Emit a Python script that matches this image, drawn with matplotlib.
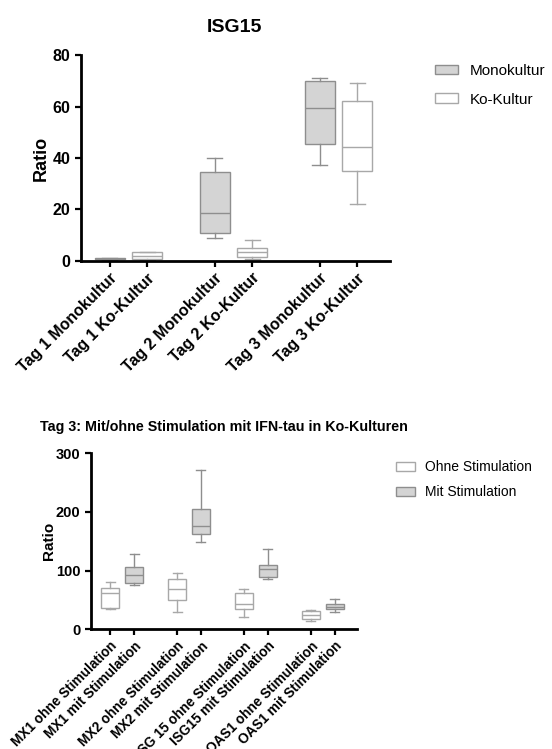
import matplotlib
matplotlib.use("Agg")
import matplotlib.pyplot as plt
from matplotlib.patches import Patch

plt.rcParams["font.family"] = ["Liberation Sans", "DejaVu Sans"]

# top chart: ISG15, box stats (whisker low, q1, median, q3, whisker high)
top_labels = ["Tag 1 Monokultur", "Tag 1 Ko-Kultur", "Tag 2 Monokultur",
              "Tag 2 Ko-Kultur", "Tag 3 Monokultur", "Tag 3 Ko-Kultur"]
top_whislo = [0.3, 0.1, 8.7, 0.7, 37.2, 22.0]
top_q1 = [0.5, 0.6, 10.9, 1.3, 45.6, 34.8]
top_med = [0.7, 2.0, 18.7, 3.4, 59.4, 44.2]
top_q3 = [0.9, 3.3, 34.7, 5.1, 70.0, 62.3]
top_whishi = [1.1, 3.5, 40.1, 8.1, 71.1, 69.1]
top_filled = [True, False, True, False, True, False]
top_legend = ["Monokultur", "Ko-Kultur"]

# bottom chart: day 3 with/without stimulation
bot_labels = ["MX1 ohne Stimulation", "MX1 mit Stimulation",
              "MX2 ohne Stimulation", "MX2 mit Stimulation",
              "ISG 15 ohne Stimulation", "ISG15 mit Stimulation",
              "OAS1 ohne Stimulation", "OAS1 mit Stimulation"]
bot_whislo = [34.1, 75.5, 30.0, 148.8, 21.5, 85.2, 14.1, 30.0]
bot_q1 = [35.8, 78.9, 49.9, 161.9, 34.6, 89.7, 18.1, 34.1]
bot_med = [61.9, 93.1, 69.2, 176.1, 43.7, 102.8, 24.9, 38.5]
bot_q3 = [69.9, 105.7, 85.7, 204.5, 62.4, 110.1, 31.2, 43.1]
bot_whishi = [81.1, 127.8, 95.4, 271.5, 69.2, 137.4, 32.4, 51.6]
bot_filled = [False, True, False, True, False, True, False, True]
bot_legend = ["Ohne Stimulation", "Mit Stimulation"]

GRAY_FILL = "#d4d4d4"
GRAY_EDGE = "#8e8e8e"
LIGHT_EDGE = "#a8a8a8"
GROUP_STEP = 2.8


def positions(n):
    return [(i // 2) * GROUP_STEP + (i % 2) for i in range(n)]


def draw_boxes(ax, lo, q1, med, q3, hi, filled, width):
    pos = positions(len(med))
    for i, p in enumerate(pos):
        edge = GRAY_EDGE if filled[i] else LIGHT_EDGE
        stats = [{"whislo": lo[i], "q1": q1[i], "med": med[i],
                  "q3": q3[i], "whishi": hi[i], "fliers": []}]
        ax.bxp(stats, positions=[p], widths=width, patch_artist=True,
               showfliers=False, manage_ticks=False,
               boxprops=dict(facecolor=GRAY_FILL if filled[i] else "white",
                             edgecolor=edge, linewidth=1.0),
               medianprops=dict(color=edge, linewidth=1.0),
               whiskerprops=dict(color=edge, linewidth=1.0),
               capprops=dict(color=edge, linewidth=1.0),
               capwidths=width * 0.5)
    return pos


def style_axis(ax, pos, labels, ymax, yticks, tick_fs, xtick_fs, ylabel_fs):
    for side in ("top", "right"):
        ax.spines[side].set_visible(False)
    for side in ("left", "bottom"):
        ax.spines[side].set_linewidth(2.0)
    ax.set_ylim(0, ymax)
    ax.set_yticks(yticks)
    ax.set_xticks(pos)
    ax.set_xticklabels(labels, rotation=45, ha="right", rotation_mode="anchor",
                       fontweight="bold", fontsize=xtick_fs)
    ax.tick_params(axis="both", direction="out", length=4, width=1.6,
                   labelsize=tick_fs)
    ax.tick_params(axis="x", pad=3, labelsize=xtick_fs)
    for lab in ax.get_yticklabels():
        lab.set_fontweight("bold")
    ax.set_ylabel("Ratio", fontweight="bold", fontsize=ylabel_fs)


fig = plt.figure(figsize=(5.52, 7.49), dpi=100)

# top panel
ax1 = fig.add_axes([0.1462, 0.6519, 0.5603, 0.2742])
pos1 = draw_boxes(ax1, top_whislo, top_q1, top_med, top_q3, top_whishi,
                  top_filled, 0.8)
ax1.set_xlim(pos1[0] - 0.77, pos1[-1] + 0.87)
style_axis(ax1, pos1, top_labels, 80, [0, 20, 40, 60, 80], 11.5, 11.5, 13)
ax1.yaxis.labelpad = 2
fig.text(0.425, 0.963, "ISG15", ha="center", va="center",
         fontsize=14, fontweight="bold")
handles1 = [Patch(facecolor=GRAY_FILL, edgecolor=GRAY_EDGE, linewidth=1.0),
            Patch(facecolor="white", edgecolor=LIGHT_EDGE, linewidth=1.0)]
fig.legend(handles1, top_legend, loc="upper left",
           bbox_to_anchor=(435 / 552, 1 - 64 / 749), frameon=False,
           fontsize=11, handlelength=1.5, handleheight=0.6,
           handletextpad=0.8, labelspacing=0.95, borderpad=0,
           borderaxespad=0)

# bottom panel
ax2 = fig.add_axes([0.1649, 0.1598, 0.4813, 0.235])
pos2 = draw_boxes(ax2, bot_whislo, bot_q1, bot_med, bot_q3, bot_whishi,
                  bot_filled, 0.75)
ax2.set_xlim(pos2[0] - 0.8, pos2[-1] + 0.92)
style_axis(ax2, pos2, bot_labels, 300, [0, 100, 200, 300], 10.5, 9.8, 11)
ax2.yaxis.labelpad = 0
fig.text(0.406, 1 - 427 / 749, "Tag 3: Mit/ohne Stimulation mit IFN-tau in Ko-Kulturen",
         ha="center", va="center", fontsize=10.3, fontweight="bold")
handles2 = [Patch(facecolor="white", edgecolor=LIGHT_EDGE, linewidth=1.0),
            Patch(facecolor=GRAY_FILL, edgecolor=GRAY_EDGE, linewidth=1.0)]
fig.legend(handles2, bot_legend, loc="upper left",
           bbox_to_anchor=(396 / 552, 1 - 460 / 749), frameon=False,
           fontsize=10, handlelength=1.4, handleheight=0.6,
           handletextpad=0.7, labelspacing=0.8, borderpad=0,
           borderaxespad=0)

fig.savefig("out.png", dpi=100)
